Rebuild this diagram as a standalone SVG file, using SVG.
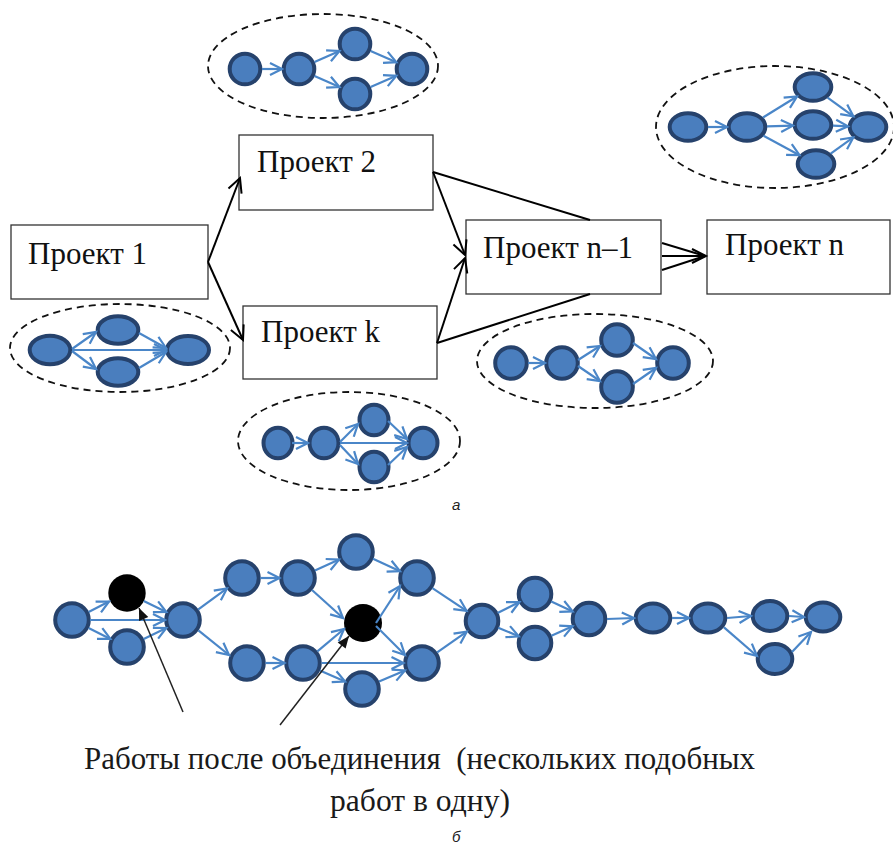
<svg xmlns="http://www.w3.org/2000/svg" width="893" height="846" viewBox="0 0 893 846">
<style>
.bg{fill:#ffffff}
.box{fill:#ffffff;stroke:#333333;stroke-width:1.3}
.pt{font-family:"Liberation Serif","Times New Roman",serif;font-size:31px;fill:#111111}
.cap{font-family:"Liberation Serif","Times New Roman",serif;font-size:32px;fill:#1a1a1a}
.lbl{font-family:"Liberation Sans",Arial,sans-serif;font-size:15px;font-style:italic;fill:#222222}
.grp{fill:none;stroke:#111111;stroke-width:1.8;stroke-dasharray:7 5}
.n{fill:#4a7ebe;stroke:#26426c;stroke-width:4}
.k{fill:#000000}
.e{fill:none;stroke:#4a86c8;stroke-width:2.2;marker-end:url(#ba)}
.c{fill:none;stroke:#000000;stroke-width:2}
.ca{marker-end:url(#ka)}
.an{fill:none;stroke:#222222;stroke-width:1.5;marker-end:url(#fa)}
</style>
<defs>
<marker id="ba" viewBox="0 0 14 14" refX="13" refY="7" markerWidth="14" markerHeight="14" markerUnits="userSpaceOnUse" orient="auto" overflow="visible">
<path d="M1,1 L13,7 L1,13" fill="none" stroke="#4a86c8" stroke-width="2.2"/>
</marker>
<marker id="ka" viewBox="0 0 16 16" refX="15" refY="8" markerWidth="16" markerHeight="16" markerUnits="userSpaceOnUse" orient="auto" overflow="visible">
<path d="M1,1 L15,8 L1,15" fill="none" stroke="#000000" stroke-width="2"/>
</marker>
<marker id="fa" viewBox="0 0 12 10" refX="12" refY="5" markerWidth="12" markerHeight="10" markerUnits="userSpaceOnUse" orient="auto" overflow="visible">
<path d="M0,0 L12,5 L0,10 z" fill="#111111"/>
</marker>
</defs>
<rect class="bg" x="0" y="0" width="893" height="846"/>

<!-- dashed groups -->
<g id="groups">
<ellipse class="grp" cx="323" cy="66" rx="115" ry="52"/>
<ellipse class="grp" cx="775" cy="127" rx="119" ry="61"/>
<ellipse class="grp" cx="120" cy="348" rx="110" ry="44"/>
<ellipse class="grp" cx="349" cy="441" rx="111" ry="49"/>
<ellipse class="grp" cx="595" cy="361" rx="118" ry="47"/>
</g>

<!-- project nodes -->
<g id="p1"><rect class="box" x="11" y="225" width="197" height="74"/><text class="pt" x="28" y="264">Проект 1</text></g>
<g id="p2"><rect class="box" x="239" y="135" width="194" height="75"/><text class="pt" x="257" y="172">Проект 2</text></g>
<g id="pk"><rect class="box" x="243" y="306" width="194" height="73"/><text class="pt" x="261" y="342">Проект k</text></g>
<g id="pn1"><rect class="box" x="466" y="220" width="195" height="74"/><text class="pt" x="483" y="258">Проект n–1</text></g>
<g id="pn"><rect class="box" x="707" y="220" width="183" height="74"/><text class="pt" x="725" y="255">Проект n</text></g>

<!-- cluster 1 (top) -->
<g id="c1a"><circle class="n" cx="245" cy="69" r="15.3"/></g>
<g id="c1b"><circle class="n" cx="299" cy="69" r="15.3"/></g>
<g id="c1c"><circle class="n" cx="355" cy="44" r="15.3"/></g>
<g id="c1d"><circle class="n" cx="355" cy="94" r="15.3"/></g>
<g id="c1e"><circle class="n" cx="412" cy="69" r="15.3"/></g>

<!-- cluster 2 (right) -->
<g id="c2a"><ellipse class="n" cx="688" cy="127" rx="18.3" ry="13.8"/></g>
<g id="c2b"><ellipse class="n" cx="747" cy="127" rx="18.3" ry="13.8"/></g>
<g id="c2c"><ellipse class="n" cx="813" cy="87" rx="18.3" ry="13.8"/></g>
<g id="c2d"><ellipse class="n" cx="813" cy="125" rx="18.3" ry="13.8"/></g>
<g id="c2e"><ellipse class="n" cx="816" cy="164" rx="18.3" ry="13.8"/></g>
<g id="c2f"><ellipse class="n" cx="868" cy="127" rx="18.3" ry="13.8"/></g>

<!-- cluster 3 (left) -->
<g id="c3a"><ellipse class="n" cx="50" cy="350" rx="20.3" ry="14.3"/></g>
<g id="c3b"><ellipse class="n" cx="118" cy="330" rx="20.3" ry="13.8"/></g>
<g id="c3c"><ellipse class="n" cx="118" cy="372" rx="20.3" ry="13.8"/></g>
<g id="c3d"><ellipse class="n" cx="188" cy="350" rx="21" ry="14"/></g>

<!-- cluster 4 (bottom middle) -->
<g id="c4a"><ellipse class="n" cx="278" cy="443" rx="14.5" ry="15.3"/></g>
<g id="c4b"><ellipse class="n" cx="324" cy="443" rx="14.5" ry="15.3"/></g>
<g id="c4c"><ellipse class="n" cx="374" cy="420" rx="14.5" ry="15.3"/></g>
<g id="c4d"><ellipse class="n" cx="374" cy="467" rx="14.5" ry="15.3"/></g>
<g id="c4e"><ellipse class="n" cx="423" cy="443" rx="14.5" ry="15.3"/></g>

<!-- cluster 5 (right middle) -->
<g id="c5a"><circle class="n" cx="511" cy="363" r="15.8"/></g>
<g id="c5b"><circle class="n" cx="562" cy="363" r="15.8"/></g>
<g id="c5c"><circle class="n" cx="617" cy="340" r="15.8"/></g>
<g id="c5d"><circle class="n" cx="617" cy="387" r="15.8"/></g>
<g id="c5e"><circle class="n" cx="673" cy="363" r="15.8"/></g>

<!-- bottom network -->
<g id="b1"><circle class="n" cx="72" cy="620" r="16.8"/></g>
<g id="bk1"><circle class="k" cx="127" cy="593" r="18.7"/></g>
<g id="b2"><circle class="n" cx="127" cy="647" r="16.8"/></g>
<g id="b3"><circle class="n" cx="183" cy="620" r="16.8"/></g>
<g id="b4"><circle class="n" cx="242" cy="578" r="16.8"/></g>
<g id="b5"><circle class="n" cx="298" cy="578" r="16.8"/></g>
<g id="b6"><circle class="n" cx="356" cy="552" r="16.8"/></g>
<g id="bk2"><circle class="k" cx="363" cy="623" r="19"/></g>
<g id="b7"><circle class="n" cx="417" cy="578" r="16.8"/></g>
<g id="b8"><circle class="n" cx="247" cy="663" r="16.8"/></g>
<g id="b9"><circle class="n" cx="303" cy="663" r="16.8"/></g>
<g id="b10"><circle class="n" cx="362" cy="689" r="16.8"/></g>
<g id="b11"><circle class="n" cx="422" cy="663" r="16.8"/></g>
<g id="b12"><circle class="n" cx="482" cy="621" r="16.3"/></g>
<g id="b13"><circle class="n" cx="535" cy="594" r="16.3"/></g>
<g id="b14"><circle class="n" cx="535" cy="643" r="16.3"/></g>
<g id="b15"><circle class="n" cx="589" cy="619" r="16.3"/></g>
<g id="b16"><ellipse class="n" cx="653" cy="618" rx="17.3" ry="14.6"/></g>
<g id="b17"><ellipse class="n" cx="708" cy="618" rx="17.3" ry="14.6"/></g>
<g id="b18"><ellipse class="n" cx="770" cy="616" rx="17.3" ry="15"/></g>
<g id="b19"><ellipse class="n" cx="823" cy="617" rx="17.3" ry="14.6"/></g>
<g id="b20"><ellipse class="n" cx="775" cy="659" rx="17.3" ry="15"/></g>

<!-- texts -->
<g id="captions">
<text class="lbl" x="452" y="510">а</text>
<text class="cap" x="84" y="769" textLength="671" lengthAdjust="spacingAndGlyphs" xml:space="preserve">Работы после объединения  (нескольких подобных</text>
<text class="cap" x="330" y="811" textLength="180" lengthAdjust="spacingAndGlyphs">работ в одну)</text>
<text class="lbl" x="452" y="842">б</text>
</g>

<!-- connectors -->
<g id="connectors">
<!-- project level -->
<line class="c ca" x1="208" y1="262" x2="240" y2="178"/>
<line class="c ca" x1="208" y1="262" x2="243" y2="340"/>
<line class="c ca" x1="433" y1="172" x2="465" y2="255"/>
<line class="c ca" x1="437" y1="343" x2="465" y2="258"/>
<line class="c" x1="433" y1="172" x2="590" y2="220"/>
<line class="c" x1="437" y1="343" x2="590" y2="294"/>
<line class="c" x1="662" y1="243" x2="705" y2="256"/>
<line class="c ca" x1="662" y1="256" x2="706" y2="256"/>
<line class="c" x1="662" y1="270" x2="705" y2="256"/>

<!-- cluster 1 -->
<line class="e" x1="262" y1="69" x2="282" y2="69"/>
<line class="e" x1="314.5" y1="62" x2="339.5" y2="51"/>
<line class="e" x1="314.5" y1="76" x2="339.5" y2="87"/>
<line class="e" x1="370.6" y1="51" x2="396.4" y2="62.2"/>
<line class="e" x1="370.6" y1="87" x2="396.4" y2="75.8"/>
<!-- cluster 2 -->
<line class="e" x1="708" y1="127" x2="727" y2="127"/>
<line class="e" x1="763" y1="117.5" x2="797" y2="96.5"/>
<line class="e" x1="767" y1="126.4" x2="793" y2="125.6"/>
<line class="e" x1="763.5" y1="135.8" x2="799.5" y2="155.2"/>
<line class="e" x1="827.6" y1="97.6" x2="853.4" y2="116.4"/>
<line class="e" x1="833" y1="125.7" x2="848" y2="126.3"/>
<line class="e" x1="830.7" y1="153.6" x2="853.3" y2="137.4"/>
<!-- cluster 3 -->
<line class="e" x1="72" y1="349" x2="96" y2="332"/>
<line class="e" x1="72" y1="351" x2="96" y2="369"/>
<line class="e" x1="72" y1="350" x2="166" y2="350"/>
<line class="e" x1="139" y1="333" x2="166" y2="348"/>
<line class="e" x1="139" y1="368" x2="166" y2="352"/>
<!-- cluster 4 -->
<line class="e" x1="292" y1="443" x2="308" y2="443"/>
<line class="e" x1="340" y1="442" x2="358" y2="424"/>
<line class="e" x1="340" y1="445" x2="358" y2="464"/>
<line class="e" x1="340" y1="443" x2="407" y2="443"/>
<line class="e" x1="388" y1="421" x2="407" y2="439"/>
<line class="e" x1="388" y1="465" x2="407" y2="447"/>
<!-- cluster 5 -->
<line class="e" x1="528" y1="363" x2="545" y2="363"/>
<line class="e" x1="578" y1="360" x2="600" y2="346"/>
<line class="e" x1="578" y1="366" x2="600" y2="381"/>
<line class="e" x1="633" y1="343" x2="656" y2="359"/>
<line class="e" x1="633" y1="384" x2="656" y2="368"/>

<!-- bottom network -->
<line class="e" x1="88.6" y1="611.9" x2="109" y2="601.5"/>
<line class="e" x1="88.6" y1="628.1" x2="110.4" y2="638.9"/>
<line class="e" x1="90" y1="620" x2="165" y2="620"/>
<line class="e" x1="143.7" y1="601" x2="166.3" y2="612"/>
<line class="e" x1="143.7" y1="639" x2="166.3" y2="628"/>
<line class="e" x1="198" y1="609.6" x2="227" y2="588.4"/>
<line class="e" x1="198.4" y1="630.3" x2="229" y2="655"/>
<line class="e" x1="260.5" y1="578" x2="279.5" y2="578"/>
<line class="e" x1="314.9" y1="570.4" x2="339.1" y2="559.6"/>
<line class="e" x1="312" y1="590" x2="343" y2="618"/>
<line class="e" x1="265.5" y1="663" x2="284.5" y2="663"/>
<line class="e" x1="317.4" y1="651.4" x2="344" y2="629"/>
<line class="e" x1="319.9" y1="670.5" x2="345.1" y2="681.5"/>
<line class="e" x1="321.5" y1="663" x2="403.5" y2="663"/>
<line class="e" x1="373" y1="558.8" x2="400" y2="571.2"/>
<line class="e" x1="376" y1="623" x2="400" y2="586"/>
<line class="e" x1="376" y1="626" x2="405" y2="655"/>
<line class="e" x1="379" y1="681.6" x2="405" y2="670.4"/>
<line class="e" x1="432.4" y1="588.2" x2="466.6" y2="610.8"/>
<line class="e" x1="437.2" y1="652.4" x2="466.8" y2="631.6"/>
<line class="e" x1="497.6" y1="613" x2="519.4" y2="602"/>
<line class="e" x1="498.2" y1="627.7" x2="518.8" y2="636.3"/>
<line class="e" x1="551.3" y1="601.6" x2="572.7" y2="611.4"/>
<line class="e" x1="551.4" y1="635.7" x2="572.6" y2="626.3"/>
<line class="e" x1="607" y1="619" x2="634" y2="618"/>
<line class="e" x1="672" y1="618" x2="689" y2="618"/>
<line class="e" x1="727" y1="618" x2="751" y2="616"/>
<line class="e" x1="724" y1="627.4" x2="757" y2="656"/>
<line class="e" x1="789" y1="616" x2="804" y2="617"/>
<line class="e" x1="792" y1="652" x2="811" y2="632"/>

<!-- annotation arrows -->
<line class="an" x1="183" y1="712" x2="139" y2="608"/>
<line class="an" x1="280" y1="725" x2="349" y2="636"/>
</g>
</svg>
